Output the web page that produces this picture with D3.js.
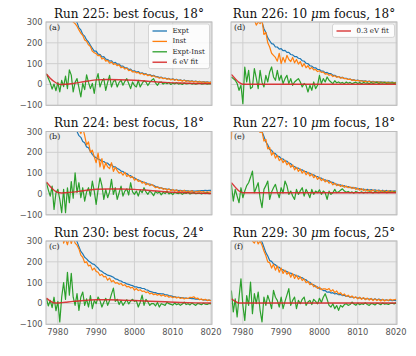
<!DOCTYPE html>
<html>
<head>
<meta charset="utf-8">
<script src="https://cdn.jsdelivr.net/npm/d3@7"></script>
<style>
  body { margin: 0; background: #fff; }
</style>
</head>
<body>
<div id="chart"></div>
<script>
// energy grid in eV, shared by every measured series
var energy = d3.range(7977, 8020.25, 0.5);
// knots of the fitted curves
var fitEnergy = [7977, 7978, 7979, 7980, 7981, 7982, 7984, 7986, 7988, 7990, 7993, 7996, 8000, 8004, 8008, 8012, 8016, 8020];

var xTicks = [7980, 7990, 8000, 8010, 8020];
var yTicks = [-100, 0, 100, 200, 300];

var titles = ["Run 225: best focus, 18°", "Run 224: best focus, 18°", "Run 230: best focus, 24°",
              "Run 226: 10 μm focus, 18°", "Run 227: 10 μm focus, 18°", "Run 229: 30 μm focus, 25°"];
var tags = ["(a)", "(b)", "(c)", "(d)", "(e)", "(f)"];
var legendA = ["Expt", "Inst", "Expt-Inst", "6 eV fit"];
var legendD = ["0.3 eV fit"];

// Run 225
var expt225 = [620, 590, 560, 530, 505, 480, 455, 430, 410, 390,
  372, 355, 338, 326, 314, 306, 298, 272, 262, 240,
  232, 214, 204, 188, 174, 160, 160, 146, 144, 132,
  134, 122, 120, 112, 114, 102, 106, 98, 98, 88,
  88, 80, 80, 72, 74, 64, 66, 60, 62, 54,
  56, 50, 52, 45, 48, 42, 44, 38, 38, 33,
  35, 30, 31, 27, 29, 24, 27, 22, 25, 20,
  22, 18, 21, 17, 19, 15, 18, 14, 16, 13,
  15, 12, 14, 11, 13, 10, 12];
var inst225 = [600, 575, 548, 520, 498, 470, 448, 420, 402, 380,
  360, 346, 330, 318, 300, 292, 280, 262, 246, 236,
  214, 208, 190, 182, 160, 152, 148, 138, 140, 122,
  126, 112, 116, 102, 108, 96, 100, 90, 94, 80,
  84, 74, 78, 66, 70, 60, 62, 56, 58, 50,
  54, 46, 50, 42, 46, 38, 42, 36, 36, 30,
  34, 28, 30, 25, 28, 22, 26, 20, 24, 18,
  21, 16, 20, 15, 18, 13, 17, 12, 15, 11,
  14, 10, 13, 9, 12, 8, 11];
var diff225 = [52, 30, 8, -22, 2, -30, 10, -36, 20, -10,
  40, -20, 70, 45, -36, 10, 28, -15, -60, 5,
  -25, 46, 10, -20, 5, -43, 20, 52, -12, 15,
  28, -28, 10, 44, -12, 15, 20, -12, 10, 20,
  -4, 15, 28, 5, -20, 12, -5, -12, 20, -12,
  5, 18, 12, -5, 10, 20, 28, 8, -4, 10,
  12, 2, 8, 4, 10, 0, 6, 3, 8, 2,
  5, 0, 7, 3, 4, 6, 2, 5, 1, 4,
  6, 2, 3, 5, 1, 4, 3];
var fit225 = [50, 30, 14, 3, 0, 1, 5, 11, 17, 22, 24, 23, 20, 15, 10, 7, 5, 4];

// Run 224
var expt224 = [610, 585, 560, 535, 512, 490, 468, 446, 426, 406,
  388, 370, 354, 338, 324, 312, 300, 280, 272, 252,
  246, 226, 222, 204, 190, 180, 174, 168, 164, 156,
  156, 148, 148, 138, 142, 130, 130, 122, 118, 110,
  108, 100, 98, 90, 88, 80, 78, 70, 68, 62,
  60, 54, 54, 48, 48, 44, 42, 36, 34, 30,
  30, 26, 26, 22, 24, 20, 20, 18, 19, 16,
  18, 15, 16, 15, 15, 13, 16, 14, 14, 15,
  15, 16, 16, 17, 16, 18, 17];
var inst224 = [590, 560, 540, 520, 498, 476, 450, 430, 410, 392,
  372, 356, 340, 326, 312, 304, 320, 310, 290, 318,
  280, 236, 250, 200, 210, 178, 150, 196, 130, 170,
  120, 150, 130, 122, 150, 108, 128, 112, 100, 104,
  90, 104, 84, 90, 78, 84, 66, 72, 60, 64,
  52, 58, 44, 50, 40, 46, 38, 30, 34, 26,
  30, 22, 26, 18, 24, 16, 22, 14, 20, 10,
  16, 12, 18, 8, 14, 10, 16, 6, 12, 10,
  14, 8, 12, 6, 10, 8, 12];
var diff224 = [54, 20, -10, 38, -74, 5, 22, -26, -90, 22,
  -90, 30, -42, 60, -20, 102, 6, 54, -18, 30,
  -34, 10, 30, -10, 62, 14, -50, 20, 78, 40,
  -26, 22, -18, 10, 70, -2, 30, -26, 6, 38,
  -10, 14, 25, -5, 54, 10, -2, 14, -10, 20,
  6, 30, 10, -2, 14, 5, -8, 12, 4, 10,
  -4, 8, 2, 12, 0, 6, -3, 8, 4, 2,
  6, -2, 5, 3, 8, 0, 4, 6, 1, 3,
  5, 0, 4, 2, 6, 1, 3];
var fit224 = [58, 36, 18, 7, 5, 6, 9, 14, 19, 23, 24, 24, 22, 17, 11, 7, 4, 2];

// Run 230
var expt230 = [640, 610, 580, 550, 520, 495, 470, 448, 426, 405,
  385, 366, 348, 332, 318, 308, 298, 272, 250, 238,
  222, 214, 204, 198, 190, 188, 178, 170, 158, 154,
  146, 142, 136, 134, 130, 126, 118, 116, 110, 108,
  102, 100, 94, 92, 88, 86, 80, 80, 76, 76,
  72, 72, 66, 64, 58, 56, 52, 52, 48, 48,
  46, 46, 42, 42, 38, 37, 34, 33, 30, 30,
  28, 28, 26, 26, 24, 25, 23, 23, 21, 21,
  19, 19, 17, 17, 15, 16, 14];
var inst230 = [610, 590, 560, 530, 500, 480, 450, 420, 400, 290,
  310, 282, 320, 288, 316, 290, 280, 262, 232, 222,
  196, 200, 180, 184, 160, 170, 154, 150, 134, 140,
  128, 130, 112, 122, 104, 110, 98, 100, 92, 96,
  86, 90, 80, 82, 74, 78, 64, 72, 62, 66,
  58, 60, 52, 56, 46, 50, 42, 46, 40, 44,
  36, 42, 34, 38, 30, 34, 28, 32, 26, 30,
  24, 28, 22, 26, 24, 30, 28, 32, 24, 26,
  18, 22, 16, 20, 14, 17, 13];
var diff230 = [25, -12, 15, -20, 30, -35, 10, -89, 31, 100,
  20, 150, 40, 145, 30, -9, 47, -33, 31, 55,
  -9, 22, -17, 38, -25, 14, -1, 31, 14, -17,
  6, 25, -9, 14, 45, 74, 10, 20, -5, 14,
  -9, 5, 18, -2, 12, 20, 10, 14, -17, 6,
  40, -9, 20, 8, -9, 0, -1, -12, 5, -17,
  -1, -5, -9, 6, -1, -4, -8, 2, -6, -1,
  -9, -3, 6, -5, -1, -7, 2, -4, -9, 0,
  -2, -6, 1, -3, -5, 0, -2];
var fit230 = [26, 12, 3, 2, 4, 6, 10, 13, 16, 18, 18, 17, 14, 11, 8, 5, 3, 2];

// Run 226
var expt226 = [600, 575, 550, 525, 500, 478, 456, 436, 416, 398,
  380, 364, 348, 334, 320, 310, 300, 268, 250, 224,
  210, 196, 194, 180, 180, 170, 172, 162, 164, 154,
  154, 144, 142, 134, 134, 126, 124, 114, 112, 102,
  100, 90, 88, 80, 80, 72, 72, 64, 64, 56,
  58, 52, 52, 44, 44, 38, 38, 33, 34, 29,
  30, 25, 26, 21, 23, 19, 21, 17, 19, 16,
  17, 14, 16, 13, 15, 12, 14, 11, 13, 11,
  12, 10, 11, 10, 11, 9, 10];
var inst226 = [590, 560, 530, 505, 480, 460, 440, 420, 400, 380,
  360, 340, 310, 285, 300, 292, 310, 240, 250, 200,
  180, 150, 140, 130, 112, 150, 100, 130, 106, 140,
  120, 110, 130, 104, 120, 98, 110, 86, 100, 80,
  90, 74, 82, 70, 72, 62, 66, 58, 60, 50,
  52, 44, 48, 38, 42, 34, 38, 30, 34, 28,
  28, 24, 26, 20, 22, 18, 20, 16, 18, 14,
  16, 12, 15, 11, 13, 10, 13, 10, 12, 9,
  11, 9, 10, 8, 10, 8, 9];
var diff226 = [36, 28, 20, 5, -28, -4, -92, 84, 12, 68,
  -20, -12, 76, 30, -20, 68, 10, -12, 44, 12,
  60, 84, 36, 20, 68, 20, 44, 4, 28, 44,
  4, 28, -4, 12, 20, 28, 12, -12, 5, -4,
  -36, -4, -28, 12, -20, -4, 44, 4, 28, 12,
  36, 20, 12, 4, 18, 8, 12, 6, 10, 4,
  12, 6, 10, 3, 8, 11, 5, 9, 4, 10,
  6, 8, 3, 9, 5, 7, 10, 4, 8, 6,
  9, 5, 7, 6, 8, 5, 7];
var fit226 = [48, 28, 10, 1, 1, 1, 1, 1, 1, 1, 1, 1, 1, 1, 1, 1, 1, 1];

// Run 227
var expt227 = [310, 560, 540, 518, 496, 476, 456, 436, 418, 400,
  384, 368, 352, 338, 324, 312, 300, 276, 250, 236,
  214, 210, 196, 194, 182, 180, 170, 168, 158, 158,
  148, 146, 134, 132, 124, 124, 116, 116, 108, 108,
  100, 100, 92, 92, 84, 84, 76, 76, 68, 68,
  62, 64, 56, 56, 48, 48, 42, 44, 38, 40,
  34, 36, 30, 32, 28, 30, 24, 26, 20, 24,
  19, 22, 18, 21, 16, 20, 15, 19, 14, 18,
  14, 17, 13, 16, 13, 15, 14];
var inst227 = [262, 540, 520, 500, 478, 458, 440, 420, 400, 384,
  366, 350, 334, 320, 306, 296, 300, 254, 262, 216,
  224, 186, 200, 172, 186, 160, 170, 150, 162, 140,
  150, 128, 140, 116, 128, 108, 120, 100, 112, 92,
  104, 86, 96, 78, 88, 70, 80, 64, 72, 58,
  66, 52, 58, 44, 52, 40, 46, 36, 42, 32,
  38, 30, 34, 26, 32, 22, 28, 18, 26, 16,
  22, 14, 20, 12, 20, 10, 18, 12, 16, 12,
  16, 10, 15, 12, 14, 10, 13];
var diff227 = [46, -34, 22, -10, -42, 30, -18, 14, 40, 54,
  80, 110, 6, 30, 54, -20, -66, 22, 40, 62,
  -26, 10, 30, 46, 10, -18, 30, 5, 62, 40,
  -2, 14, -10, -26, 22, -2, 15, 30, -10, 22,
  5, -18, 22, -2, 14, 6, 20, -2, 14, 6,
  -26, 14, -2, 6, 22, 6, 10, 18, 25, 14,
  8, 12, 6, 10, 4, 12, 8, 6, 10, 5,
  9, 6, 11, 7, 5, 10, 8, 6, 9, 7,
  10, 6, 8, 9, 7, 10, 8];
var fit227 = [54, 33, 14, 6, 6, 6, 6, 6, 6, 6, 6, 6, 6, 6, 6, 6, 6, 6];

// Run 229
var expt229 = [600, 575, 550, 525, 502, 480, 458, 438, 418, 398,
  380, 362, 346, 332, 318, 306, 296, 270, 244, 228,
  206, 202, 190, 186, 176, 174, 164, 162, 154, 154,
  146, 146, 138, 138, 132, 132, 124, 124, 116, 114,
  104, 102, 92, 90, 80, 80, 70, 70, 62, 62,
  54, 56, 50, 52, 46, 48, 42, 44, 38, 40,
  34, 36, 30, 32, 28, 30, 25, 28, 23, 26,
  21, 24, 20, 23, 18, 22, 17, 21, 16, 19,
  15, 18, 14, 17, 13, 16, 14];
var inst229 = [580, 560, 530, 510, 490, 466, 440, 420, 400, 380,
  360, 300, 290, 310, 286, 300, 280, 252, 230, 200,
  196, 170, 188, 160, 180, 150, 170, 144, 160, 140,
  150, 126, 144, 120, 136, 116, 128, 110, 118, 100,
  106, 90, 96, 80, 86, 72, 78, 66, 70, 70,
  66, 72, 58, 66, 52, 60, 46, 52, 40, 46,
  34, 40, 30, 36, 26, 32, 22, 30, 20, 28,
  18, 26, 16, 24, 14, 22, 14, 20, 12, 20,
  12, 18, 14, 20, 16, 18, 20];
var diff229 = [62, -41, 22, -65, 30, 118, -9, -81, 38, -9,
  103, -49, 47, -1, 55, -33, -89, 31, -9, 39,
  10, -25, 63, 30, 15, -17, 31, -25, 10, 40,
  71, -9, 15, 31, -25, 15, -1, 20, 31, -9,
  7, 15, -5, 20, 10, -2, 25, 5, 30, 47,
  20, -9, -17, -1, -25, -10, -33, -9, -17, -5,
  -1, -9, -5, 7, -3, -9, 2, -6, -1, -4,
  3, -5, -9, 0, -2, -7, 1, -1, -6, 2,
  -3, -1, -5, 0, 1, -2, 3];
var fit229 = [22, 10, 2, 2, 2, 2, 2, 2, 2, 2, 2, 2, 2, 2, 2, 2, 2, 2];

var panels = [
  {col: 0, row: 0, expt: expt225, inst: inst225, diff: diff225, fit: fit225, legend: legendA},
  {col: 0, row: 1, expt: expt224, inst: inst224, diff: diff224, fit: fit224},
  {col: 0, row: 2, expt: expt230, inst: inst230, diff: diff230, fit: fit230},
  {col: 1, row: 0, expt: expt226, inst: inst226, diff: diff226, fit: fit226, legend: legendD},
  {col: 1, row: 1, expt: expt227, inst: inst227, diff: diff227, fit: fit227},
  {col: 1, row: 2, expt: expt229, inst: inst229, diff: diff229, fit: fit229}
];
panels.forEach(function(p, i){ p.title = titles[i]; p.tag = tags[i]; });

var colors = {expt: "#1f77b4", inst: "#ff7f0e", diff: "#2ca02c", fit: "#d62728"};
var serif = "'DejaVu Serif', serif";
var sans = "'DejaVu Sans', sans-serif";

var W = 416, H = 356;
var colX = [46, 231], rowY = [22, 131.5, 241];
var pw = 166, ph = 83.3;

var x = d3.scaleLinear().domain([7976.9, 8020.25]).range([0, pw]);
var y = d3.scaleLinear().domain([-100, 300]).range([ph, 0]);

var svg = d3.select("#chart")
  .append("svg")
    .attr("width", W)
    .attr("height", H);

svg.append("defs")
  .append("clipPath")
    .attr("id", "clip")
  .append("rect")
    .attr("width", pw)
    .attr("height", ph);

var line = d3.line()
  .x(function(d, i){ return x(energy[i]); })
  .y(function(d){ return y(d); });

var fitLine = d3.line()
  .curve(d3.curveMonotoneX)
  .x(function(d, i){ return x(fitEnergy[i]); })
  .y(function(d){ return y(d); });

panels.forEach(function(p){
  var g = svg.append("g")
    .attr("transform", "translate(" + colX[p.col] + "," + rowY[p.row] + ")");

  g.append("rect")
    .attr("width", pw)
    .attr("height", ph)
    .style("fill", "#eeeeee");

  // grid
  g.selectAll("line.gx")
    .data(xTicks).enter()
    .append("line")
      .attr("class", "gx")
      .attr("x1", d => x(d)).attr("x2", d => x(d))
      .attr("y1", 0).attr("y2", ph)
      .style("stroke", "#cfcfcf")
      .style("stroke-width", 1);

  g.selectAll("line.gy")
    .data(yTicks).enter()
    .append("line")
      .attr("class", "gy")
      .attr("x1", 0).attr("x2", pw)
      .attr("y1", d => y(d)).attr("y2", d => y(d))
      .style("stroke", "#cfcfcf")
      .style("stroke-width", 1);

  var plot = g.append("g").attr("clip-path", "url(#clip)");
  [[p.expt, colors.expt], [p.inst, colors.inst], [p.diff, colors.diff]].forEach(function(s){
    plot.append("path")
      .attr("d", line(s[0]))
      .style("fill", "none")
      .style("stroke", s[1])
      .style("stroke-width", 1.2)
      .style("stroke-linejoin", "round");
  });
  plot.append("path")
    .attr("d", fitLine(p.fit))
    .style("fill", "none")
    .style("stroke", colors.fit)
    .style("stroke-width", 1.4)
    .style("opacity", 0.9);

  g.append("rect")
    .attr("width", pw)
    .attr("height", ph)
    .style("fill", "none")
    .style("stroke", "#bcbcbc")
    .style("stroke-width", 1);

  // title with italic mu
  var parts = p.title.split("μ");
  var t = g.append("text")
    .attr("x", pw / 2)
    .attr("y", -4.5)
    .style("font-family", serif)
    .style("font-size", "12px")
    .style("text-anchor", "middle")
    .style("fill", "#111");
  t.append("tspan").text(parts[0]);
  if (parts.length > 1) {
    t.append("tspan").style("font-style", "italic").text("μ");
    t.append("tspan").text(parts[1]);
  }

  g.append("text")
    .attr("x", 3)
    .attr("y", 7.5)
    .style("font-family", serif)
    .style("font-size", "8px")
    .style("fill", "#222")
    .text(p.tag);

  if (p.col == 0) {
    g.selectAll("text.yt")
      .data(yTicks).enter()
      .append("text")
        .attr("class", "yt")
        .attr("x", -3.5)
        .attr("y", d => y(d))
        .style("font-family", sans)
        .style("font-size", "8.3px")
        .style("fill", "#555")
        .style("text-anchor", "end")
        .style("dominant-baseline", "central")
        .text(d3.format("d"));
  }
  if (p.row == 2) {
    g.selectAll("text.xt")
      .data(xTicks).enter()
      .append("text")
        .attr("class", "xt")
        .attr("x", d => x(d))
        .attr("y", ph + 10.5)
        .style("font-family", sans)
        .style("font-size", "8.3px")
        .style("fill", "#555")
        .style("text-anchor", "middle")
        .text(d => d);
  }

  if (p.legend) {
    var keys = p.legend;
    var lineColors = keys.length > 1 ? [colors.expt, colors.inst, colors.diff, colors.fit] : [colors.fit];
    var lw = keys.length > 1 ? 61 : 62;
    var lx = pw - lw - 2.5;
    var lg = g.append("g").attr("transform", "translate(" + lx + ",2)");
    lg.append("rect")
      .attr("width", lw)
      .attr("height", keys.length * 10.4 + 3)
      .attr("rx", 2)
      .style("fill", "#fff")
      .style("fill-opacity", 0.8)
      .style("stroke", "#cccccc")
      .style("stroke-width", 0.8);
    var rows = lg.selectAll("g.row")
      .data(keys).enter()
      .append("g")
        .attr("class", "row")
        .attr("transform", (d, i) => "translate(0," + (7 + i * 10.4) + ")");
    rows.append("line")
      .attr("x1", 4).attr("x2", 18.5)
      .style("stroke", (d, i) => lineColors[i])
      .style("stroke-width", 1.3);
    rows.append("text")
      .attr("x", 24)
      .style("font-family", serif)
      .style("font-size", "7px")
      .style("fill", "#222")
      .style("dominant-baseline", "central")
      .text(d => d);
  }
});
</script>
</body>
</html>
